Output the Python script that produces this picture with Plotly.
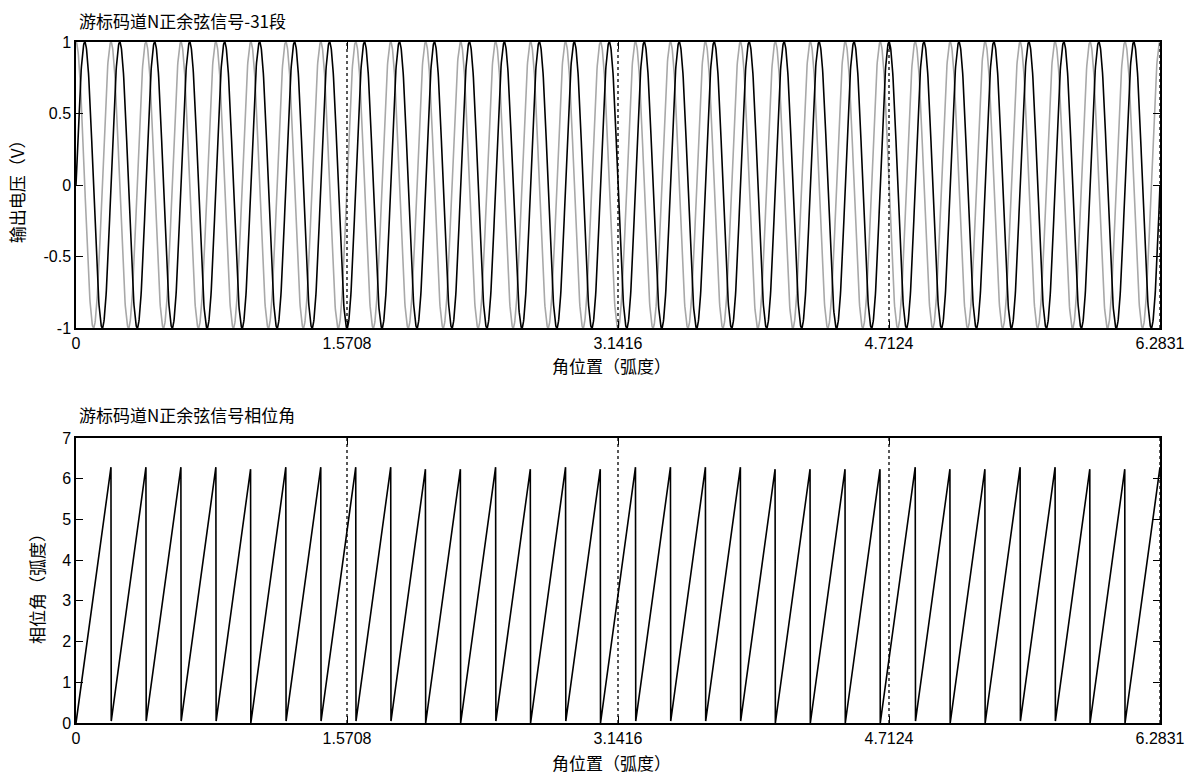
import numpy as np
import plotly.graph_objects as go
from plotly.subplots import make_subplots

# Data parameters
N_SEGMENTS = 31                      # 31 periods over one turn ("31段")
N_SAMPLES = 4000
tick_vals = [0, np.pi / 2, np.pi, 3 * np.pi / 2, 2 * np.pi]
tick_text = ["0", "1.5708", "3.1416", "4.7124", "6.2831"]
top_yticks = [-1, -0.5, 0, 0.5, 1]
bottom_yticks = [0, 1, 2, 3, 4, 5, 6, 7]
marker_lines = [np.pi / 2, np.pi, 3 * np.pi / 2, 2 * np.pi]

title_top = "游标码道N正余弦信号-31段"
title_bottom = "游标码道N正余弦信号相位角"
xlabel = "角位置（弧度）"
ylabel_top = "输出电压（V）"
ylabel_bottom = "相位角（弧度）"

theta = np.linspace(0, 2 * np.pi, N_SAMPLES)
sin_sig = np.sin(N_SEGMENTS * theta)
cos_sig = np.cos(N_SEGMENTS * theta)
phase = np.mod(np.arctan2(sin_sig, cos_sig), 2 * np.pi)

W, H = 1197, 774
L, R, T, B = 76, 34, 42, 51
plot_h = H - T - B
top_dom = [(723 - 328) / plot_h, 1.0]
bot_dom = [0.0, 285 / plot_h]

fig = make_subplots(rows=2, cols=1)
fig.add_trace(go.Scatter(x=theta, y=cos_sig, mode="lines",
                         line=dict(color="#a8a8a8", width=1.6), showlegend=False), row=1, col=1)
fig.add_trace(go.Scatter(x=theta, y=sin_sig, mode="lines",
                         line=dict(color="black", width=1.6), showlegend=False), row=1, col=1)
fig.add_trace(go.Scatter(x=theta, y=phase, mode="lines",
                         line=dict(color="black", width=1.6), showlegend=False), row=2, col=1)

tickfont = dict(family="Liberation Sans, Arial", size=16, color="black")
cjk = "Noto Sans CJK SC"
axis_common = dict(showgrid=False, zeroline=False, showline=True, linecolor="black",
                   linewidth=1.5, mirror="ticks", ticks="inside", ticklen=7,
                   tickcolor="black", tickfont=tickfont)

fig.update_xaxes(range=[0, 2 * np.pi], tickvals=tick_vals, ticktext=tick_text, **axis_common)
fig.update_yaxes(**axis_common)
fig.update_yaxes(range=[-1, 1], tickvals=top_yticks, ticktext=[str(v) for v in top_yticks],
                 domain=top_dom, row=1, col=1)
fig.update_yaxes(range=[0, 7], tickvals=bottom_yticks, domain=bot_dom, row=2, col=1)

for xr, yr in (("x", "y"), ("x2", "y2")):
    for xv in marker_lines:
        fig.add_shape(type="line", xref=xr, yref=yr + " domain", x0=xv, x1=xv, y0=0, y1=1,
                      line=dict(color="black", width=1.3, dash="3px,3px"))

fs = 17
pw = W - L - R


def px(xp):
    return (xp - L) / pw


def py(yp):
    return 1 - (yp - T) / plot_h


for txt, yy in ((title_top, 21), (title_bottom, 414)):
    fig.add_annotation(text=txt, xref="paper", yref="paper", x=px(77), y=py(yy),
                       xanchor="left", yanchor="middle", showarrow=False,
                       font=dict(family=cjk, size=fs, color="black"))
for yy in (366, 762):
    fig.add_annotation(text=xlabel, xref="paper", yref="paper", x=px(613), y=py(yy),
                       xanchor="center", yanchor="middle", showarrow=False,
                       font=dict(family=cjk, size=fs, color="black"))
for xx, yy, txt in ((16, 187, ylabel_top), (36, 585, ylabel_bottom)):
    fig.add_annotation(text=txt, xref="paper", yref="paper", x=px(xx), y=py(yy),
                       xanchor="center", yanchor="middle", textangle=-90, showarrow=False,
                       font=dict(family=cjk, size=fs, color="black"))

fig.update_layout(width=W, height=H, margin=dict(l=L, r=R, t=T, b=B),
                  paper_bgcolor="white", plot_bgcolor="white")
fig.write_html("out.html")
